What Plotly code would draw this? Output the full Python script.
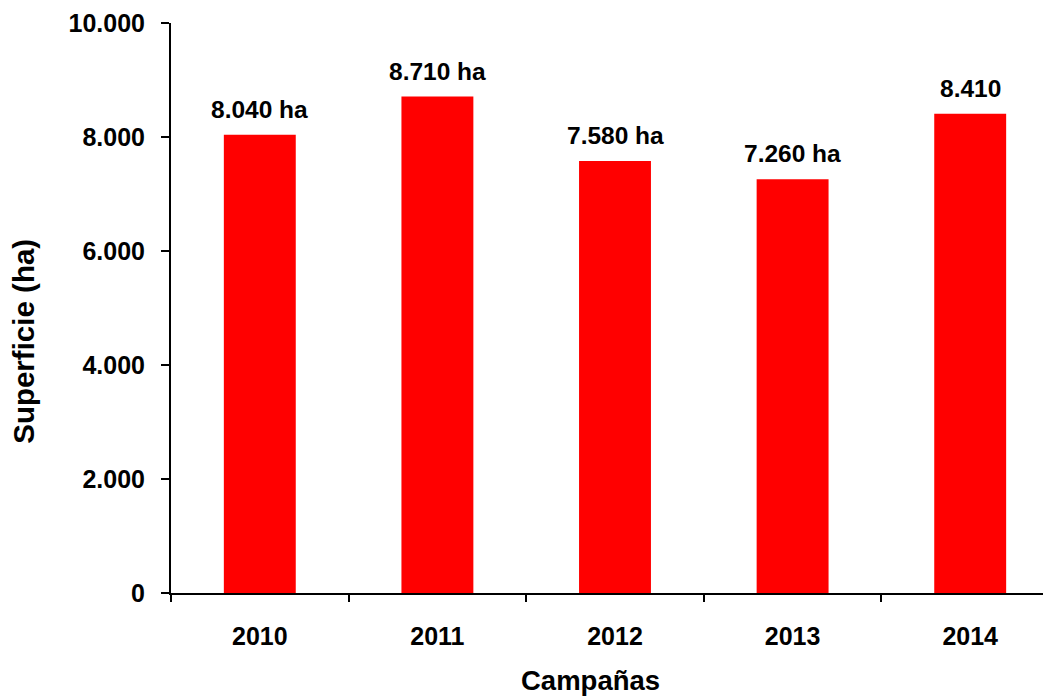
import plotly.graph_objects as go

years = ["2010", "2011", "2012", "2013", "2014"]
superficie = [8040, 8710, 7580, 7260, 8410]
labels = ["8.040 ha", "8.710 ha", "7.580 ha", "7.260 ha", "8.410"]
y_ticks = [0, 2000, 4000, 6000, 8000, 10000]
x_title = "Campañas"
y_title = "Superficie (ha)"

font_family = "Liberation Sans, Arial, sans-serif"

fig = go.Figure()
fig.add_trace(go.Bar(
    x=years, y=superficie,
    marker=dict(color="#ff0000", line=dict(width=0)),
    width=0.405,
))

for i, (val, lab) in enumerate(zip(superficie, labels)):
    fig.add_annotation(
        x=i, y=val, text=lab, showarrow=False, xanchor="center", yanchor="bottom",
        yshift=10, font=dict(family=font_family, size=24.5, color="black", weight="bold"),
    )

fig.add_annotation(
    xref="paper", yref="paper", x=0.472, y=-0.153, text=x_title, showarrow=False,
    xanchor="center", yanchor="middle",
    font=dict(family=font_family, size=27.5, color="black", weight="bold"),
)
fig.add_annotation(
    xref="paper", yref="paper", x=-0.167, y=0.442, text=y_title, showarrow=False,
    textangle=-90, xanchor="center", yanchor="middle",
    font=dict(family=font_family, size=29.5, color="black", weight="bold"),
)

fig.update_layout(
    width=1051, height=698,
    margin=dict(l=163, r=0, t=15, b=113, autoexpand=False),
    plot_bgcolor="white", paper_bgcolor="white",
    separators=",.",
    showlegend=False,
    font=dict(family=font_family, color="black"),
    xaxis=dict(
        type="category", range=[-0.5, 4.5], automargin=False,
        showline=True, linecolor="black", linewidth=2,
        ticks="outside", ticklen=7, tickwidth=2, tickcolor="black",
        tickson="boundaries", showgrid=False, zeroline=False,
        tickfont=dict(size=25, weight="bold", family=font_family),
        ticklabelstandoff=20,
    ),
    yaxis=dict(
        range=[0, 10000], tickvals=y_ticks, tickformat=",d", automargin=False,
        showline=True, linecolor="black", linewidth=2,
        ticks="outside", ticklen=8, tickwidth=2, tickcolor="black",
        showgrid=False, zeroline=False,
        tickfont=dict(size=25, weight="bold", family=font_family),
        ticklabelstandoff=11,
    ),
)

fig.write_html("out.html")
